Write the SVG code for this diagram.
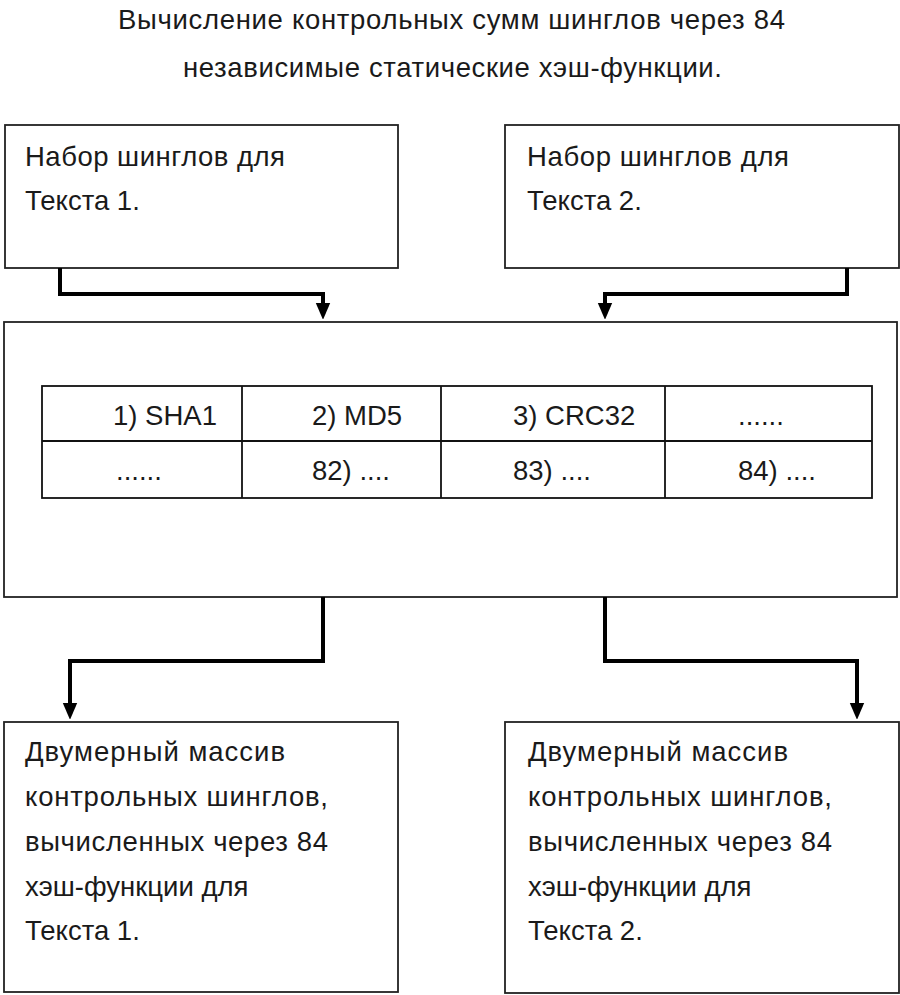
<svg xmlns="http://www.w3.org/2000/svg" width="900" height="995" viewBox="0 0 900 995">
<style>
.box{fill:#fff;stroke:#222;stroke-width:1.8}
.tbl{fill:none;stroke:#111;stroke-width:1.8}
.t{font-family:"Liberation Sans",Arial,sans-serif;font-size:27.5px;fill:#1a1a1a}
.c{fill:none;stroke:#000;stroke-width:4}
</style>
<defs>
<marker id="ah" markerWidth="4" markerHeight="4.4" refX="2" refY="2" orient="auto" markerUnits="strokeWidth">
<path d="M0,0.2 L4.2,2 L0,3.8 Z" fill="#000"/>
</marker>
</defs>
<rect width="900" height="995" fill="#fff"/>
<g id="title">
<text class="t" x="118" y="29" textLength="667" lengthAdjust="spacing">Вычисление контрольных сумм шинглов через 84</text>
<text class="t" x="183" y="77" textLength="539" lengthAdjust="spacing">независимые статические хэш-функции.</text>
</g>
<g id="set1">
<rect class="box" x="5" y="125" width="393" height="143"/>
<text class="t" x="25" y="166" textLength="260" lengthAdjust="spacing">Набор шинглов для</text>
<text class="t" x="25" y="210">Текста 1.</text>
</g>
<g id="set2">
<rect class="box" x="505" y="125" width="394" height="143"/>
<text class="t" x="527" y="166" textLength="262" lengthAdjust="spacing">Набор шинглов для</text>
<text class="t" x="527" y="210">Текста 2.</text>
</g>
<g id="hashes">
<rect class="box" x="4" y="322" width="893" height="275"/>
<rect class="tbl" x="42" y="386" width="830" height="112"/>
<line class="tbl" x1="42" y1="441" x2="872" y2="441"/>
<line class="tbl" x1="242" y1="386" x2="242" y2="498"/>
<line class="tbl" x1="441" y1="386" x2="441" y2="498"/>
<line class="tbl" x1="665" y1="386" x2="665" y2="498"/>
<text class="t" x="113" y="425">1) SHA1</text>
<text class="t" x="312" y="425">2) MD5</text>
<text class="t" x="513" y="425">3) CRC32</text>
<text class="t" x="738" y="425">......</text>
<text class="t" x="116" y="480">......</text>
<text class="t" x="312" y="480">82) ....</text>
<text class="t" x="513" y="480">83) ....</text>
<text class="t" x="738" y="480">84) ....</text>
</g>
<g id="result1">
<rect class="box" x="4" y="722" width="394" height="270"/>
<text class="t" x="25" y="761" textLength="260" lengthAdjust="spacing">Двумерный массив</text>
<text class="t" x="25" y="806" textLength="303" lengthAdjust="spacing">контрольных шинглов,</text>
<text class="t" x="25" y="851" textLength="303" lengthAdjust="spacing">вычисленных через 84</text>
<text class="t" x="25" y="896">хэш-функции для</text>
<text class="t" x="25" y="940">Текста 1.</text>
</g>
<g id="result2">
<rect class="box" x="505" y="722" width="394" height="271"/>
<text class="t" x="528" y="761" textLength="260" lengthAdjust="spacing">Двумерный массив</text>
<text class="t" x="528" y="806" textLength="304" lengthAdjust="spacing">контрольных шинглов,</text>
<text class="t" x="528" y="851" textLength="304" lengthAdjust="spacing">вычисленных через 84</text>
<text class="t" x="528" y="896">хэш-функции для</text>
<text class="t" x="528" y="940">Текста 2.</text>
</g>
<g id="connectors">
<polyline class="c" points="60,268 60,294 323,294 323,311" marker-end="url(#ah)"/>
<polyline class="c" points="847,268 847,294 605,294 605,311" marker-end="url(#ah)"/>
<polyline class="c" points="323,597 323,661 70,661 70,711" marker-end="url(#ah)"/>
<polyline class="c" points="605,597 605,661 857,661 857,711" marker-end="url(#ah)"/>
</g>
</svg>
